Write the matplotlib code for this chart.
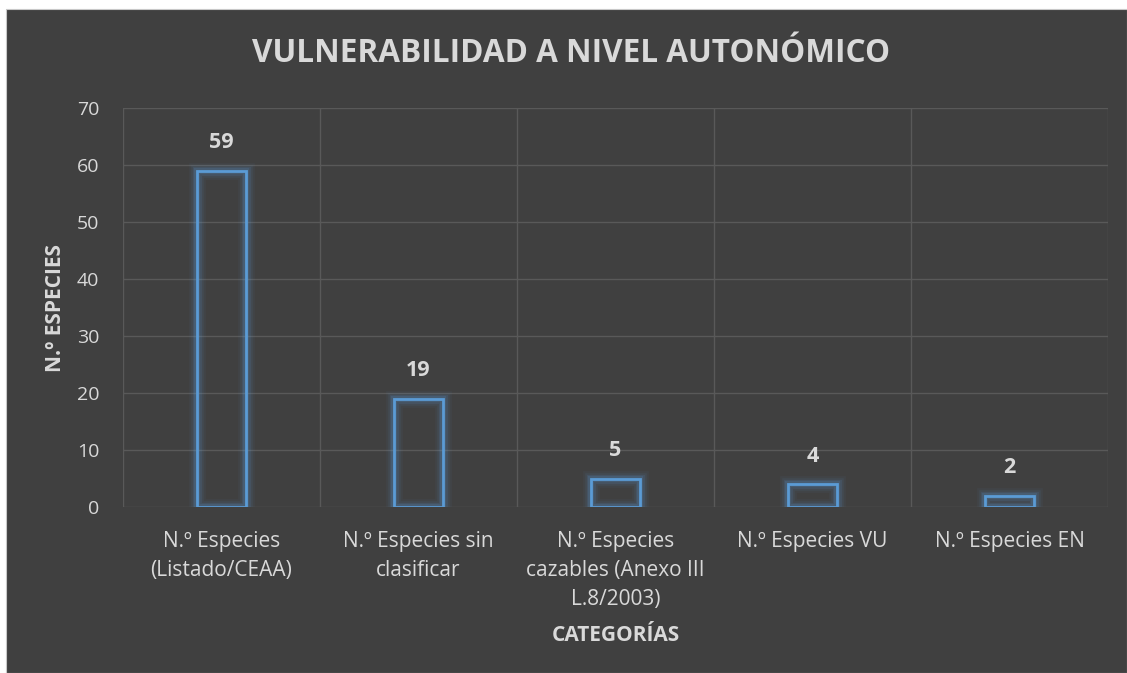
import matplotlib
matplotlib.use("Agg")
import matplotlib.pyplot as plt
from matplotlib.patches import Rectangle

categories = ["N.º Especies\n(Listado/CEAA)", "N.º Especies sin\nclasificar",
              "N.º Especies\ncazables (Anexo III\nL.8/2003)", "N.º Especies VU", "N.º Especies EN"]
values = [59, 19, 5, 4, 2]
yticks = [0, 10, 20, 30, 40, 50, 60, 70]

BG = "#404040"
TXT = "#d9d9d9"
GRID = "#595959"
BLUE = "#5b9bd5"

plt.rcParams['font.family'] = ['Open Sans', 'DejaVu Sans']

fig = plt.figure(figsize=(11.27, 6.73), dpi=100)
fig.patch.set_facecolor("white")
fig.add_artist(Rectangle((6/1127, 0), 1 - 6/1127, 1 - 9/673, transform=fig.transFigure,
                         facecolor=BG, edgecolor="#c8c8c8", linewidth=0.8, zorder=0))

L, R, T, B = 123, 1108, 108, 507
ax = fig.add_axes([L/1127, 1 - B/673, (R - L)/1127, (B - T)/673])
ax.set_facecolor(BG)
ax.patch.set_alpha(0)

x = list(range(len(values)))
width = 0.25
# glow
for lw, a in [(12, 0.05), (9, 0.08), (6.5, 0.11), (4.5, 0.16)]:
    ax.bar(x, values, width=width, facecolor="none", edgecolor=BLUE, linewidth=lw, alpha=a, zorder=3)
ax.bar(x, values, width=width, facecolor="none", edgecolor=BLUE, linewidth=2, zorder=4)

for xi, v in zip(x, values):
    ax.annotate(str(v), (xi, v), xytext=(0, 20), textcoords="offset points", ha="center", va="center",
                fontsize=15.5, fontweight="bold", color=TXT)

ax.set_xlim(-0.5, len(values) - 0.5)
ax.set_ylim(0, 70)
ax.set_yticks(yticks)
ax.set_xticks(x)
ax.set_xticklabels(categories, fontsize=15, color=TXT, linespacing=1.5)
ax.tick_params(axis="y", labelsize=14, labelcolor=TXT, length=0, pad=17)
ax.tick_params(axis="x", length=0, pad=17)
ax.set_xticks([i + 0.5 for i in range(-1, len(values))], minor=True)
ax.grid(axis="y", which="major", color=GRID, linewidth=1)
ax.grid(axis="x", which="minor", color=GRID, linewidth=1)
ax.tick_params(which="minor", length=0)
for s in ax.spines.values():
    s.set_visible(False)
ax.set_axisbelow(True)

ax.set_ylabel("N.º ESPECIES", fontsize=15, fontweight="bold", color=TXT, labelpad=8)
ax.set_xlabel("CATEGORÍAS", fontsize=15, fontweight="bold", color=TXT, labelpad=11)

fig.text(571/1127, 1 - 54/673, "VULNERABILIDAD A NIVEL AUTONÓMICO", ha="center", va="center",
         fontsize=22.7, fontweight="bold", color=TXT)

fig.savefig("out.png", dpi=100, facecolor=fig.get_facecolor())
